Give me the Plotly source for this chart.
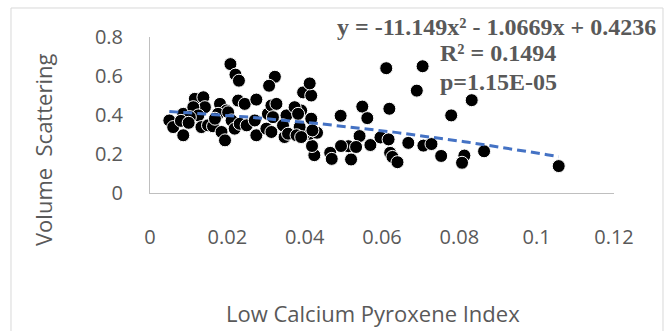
import numpy as np
import plotly.graph_objects as go

# Data
lcp_index = [0.0611, 0.0705, 0.0690, 0.0832, 0.0779, 0.0619, 0.0549, 0.0562, 0.0493, 0.0542,
             0.0570, 0.0596, 0.0617, 0.0621, 0.0627, 0.0640, 0.0668, 0.0707, 0.0728, 0.0753,
             0.0813, 0.0807, 0.0864, 0.1057, 0.0513, 0.0533, 0.0494, 0.0520, 0.0466, 0.0470,
             0.0425, 0.0419, 0.0413, 0.0432, 0.0396, 0.0417, 0.0396, 0.0417, 0.0413, 0.0391,
             0.0208, 0.0221, 0.0230, 0.0323, 0.0308, 0.0050, 0.0060, 0.0086, 0.0086, 0.0116,
             0.0138, 0.0142, 0.0112, 0.0125, 0.0103, 0.0133, 0.0150, 0.0163, 0.0181, 0.0198,
             0.0176, 0.0168, 0.0185, 0.0194, 0.0202, 0.0211, 0.0228, 0.0245, 0.0275, 0.0219,
             0.0232, 0.0250, 0.0271, 0.0275, 0.0305, 0.0314, 0.0327, 0.0318, 0.0301, 0.0314,
             0.0353, 0.0374, 0.0383, 0.0344, 0.0348, 0.0357, 0.0387, 0.0379, 0.0391, 0.0420,
             0.0080, 0.0100]
volume_scattering = [0.640, 0.650, 0.525, 0.476, 0.398, 0.432, 0.443, 0.384, 0.396, 0.292,
                     0.246, 0.285, 0.275, 0.206, 0.185, 0.158, 0.257, 0.243, 0.251, 0.190,
                     0.192, 0.155, 0.214, 0.138, 0.240, 0.236, 0.241, 0.172, 0.206, 0.175,
                     0.194, 0.241, 0.304, 0.309, 0.296, 0.381, 0.516, 0.500, 0.562, 0.423,
                     0.661, 0.607, 0.576, 0.596, 0.550, 0.372, 0.338, 0.296, 0.406, 0.483,
                     0.491, 0.440, 0.440, 0.398, 0.389, 0.338, 0.347, 0.342, 0.457, 0.423,
                     0.406, 0.381, 0.313, 0.270, 0.414, 0.372, 0.474, 0.457, 0.479, 0.330,
                     0.355, 0.347, 0.372, 0.296, 0.406, 0.449, 0.457, 0.389, 0.330, 0.313,
                     0.398, 0.440, 0.406, 0.347, 0.287, 0.304, 0.338, 0.296, 0.287, 0.321,
                     0.370, 0.360]

trend_coef = [-11.149, -1.0669, 0.4236]
x_tickvals = [0, 0.02, 0.04, 0.06, 0.08, 0.1, 0.12]
x_ticktext = ["0", "0.02", "0.04", "0.06", "0.08", "0.1", "0.12"]
y_tickvals = [0, 0.2, 0.4, 0.6, 0.8]
y_ticktext = ["0", "0.2", "0.4", "0.6", "0.8"]

xs = np.linspace(min(lcp_index), max(lcp_index), 100)
ys = np.polyval(trend_coef, xs)

fig = go.Figure()
fig.add_trace(go.Scatter(
    x=lcp_index, y=volume_scattering, mode="markers",
    marker=dict(color="black", size=13, line=dict(color="white", width=1)),
    showlegend=False))
fig.add_trace(go.Scatter(
    x=xs, y=ys, mode="lines",
    line=dict(color="#4472C4", width=3, dash="9px,5px"),
    showlegend=False))

tick_font = dict(family="Open Sans", size=20, color="#595959")
fig.update_layout(
    width=664, height=331,
    margin=dict(l=150, r=50, t=37, b=138),
    paper_bgcolor="white", plot_bgcolor="white",
    xaxis=dict(range=[0, 0.12], tickvals=x_tickvals, ticktext=x_ticktext,
               showgrid=False, zeroline=False, showline=True, linecolor="#bfbfbf",
               linewidth=1, tickfont=tick_font, ticks="", ticklabelstandoff=26),
    yaxis=dict(range=[0, 0.8], tickvals=y_tickvals, ticktext=y_ticktext,
               showgrid=False, zeroline=False, showline=True, linecolor="#bfbfbf",
               linewidth=1, tickfont=tick_font, ticks="", ticklabelstandoff=22),
)

title_font = dict(family="Open Sans", size=22, color="#595959")
eq_font = dict(family="Liberation Serif", size=24, color="#595959")
fig.add_annotation(text="Low Calcium Pyroxene Index", xref="paper", yref="paper",
                   x=0.4806, y=-0.769, showarrow=False, font=title_font,
                   xanchor="center", yanchor="middle")
fig.add_annotation(text="Volume\u00a0 Scattering", xref="paper", yref="paper",
                   x=-0.2306, y=0.2756, showarrow=False, font=title_font, textangle=-90,
                   xanchor="center", yanchor="middle")
fig.add_annotation(text="<b>y = -11.149x\u00b2 - 1.0669x + 0.4236</b>", xref="paper", yref="paper",
                   x=0.7457, y=1.064, showarrow=False, font=eq_font,
                   xanchor="center", yanchor="middle")
fig.add_annotation(text="<b>R\u00b2 = 0.1494</b>", xref="paper", yref="paper",
                   x=0.6207, y=0.897, showarrow=False, font=eq_font,
                   xanchor="left", yanchor="middle")
fig.add_annotation(text="<b>p=1.15E-05</b>", xref="paper", yref="paper",
                   x=0.6207, y=0.7115, showarrow=False, font=eq_font,
                   xanchor="left", yanchor="middle")
fig.add_shape(type="rect", xref="paper", yref="paper",
              x0=-0.2996, x1=1.1056, y0=-0.96, y1=1.1859,
              line=dict(color="#d9d9d9", width=1), fillcolor="rgba(0,0,0,0)")

fig.write_html("out.html")
